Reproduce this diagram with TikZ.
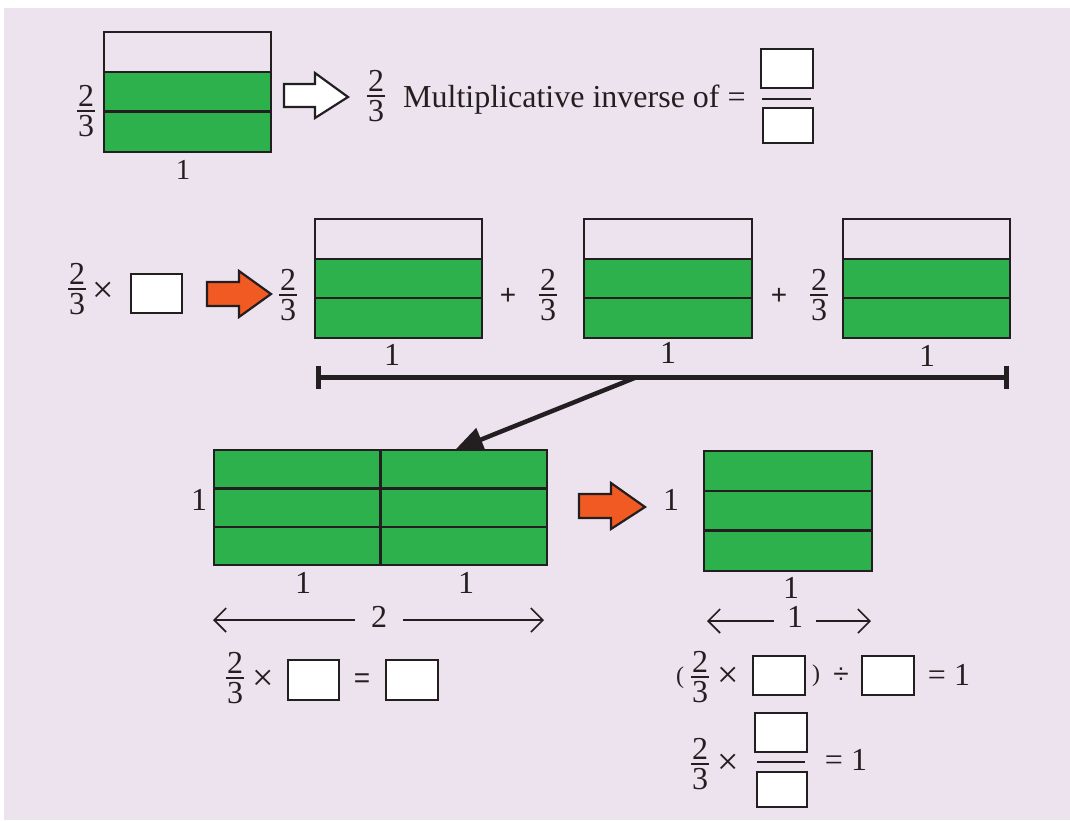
\documentclass[tikz,border=0pt]{standalone}
\usepackage{fontspec}
\setmainfont{Liberation Serif}
\newfontfamily\symfont{Liberation Sans}
\usetikzlibrary{arrows.meta,calc}
\definecolor{bgc}{HTML}{EDE3EF}
\definecolor{grn}{HTML}{2DB14C}
\definecolor{org}{HTML}{F15A22}
\definecolor{ink}{HTML}{231F20}
\tikzset{
  txt/.style={font=\fontsize{32}{38}\selectfont, inner sep=0pt, text=ink},
  small/.style={font=\fontsize{29}{34}\selectfont, inner sep=0pt, text=ink},
  sym/.style={font=\symfont\fontsize{28}{32}\selectfont, inner sep=0pt, text=ink},
  times/.style={font=\fontsize{38}{40}\selectfont, inner sep=0pt, text=ink},
  fbar/.style={draw=ink, line width=1.3pt},
  frame/.style={draw=ink, line width=2.6pt, inner sep=0pt, fill=none},
  ibox/.style={draw=ink, line width=2.6pt, inner sep=0pt, fill=white},
  ln/.style={draw=ink, line width=2.6pt},
  blk/.style={draw=ink, line width=2.2pt, line join=miter},
  dbl/.style={draw=ink, line width=1.6pt, -{Straight Barb[length=12pt,width=24pt]}},
}
\newcommand{\myfr}[3]{%
  \node[txt, anchor=south] (#1n) at (#2,#3-4) {2};
  \node[txt, anchor=north] (#1d) at (#2,#3+4) {3};
  \draw[fbar] (#2-9,#3) -- (#2+9,#3);}
\begin{document}
\begin{tikzpicture}[x=1pt,y=-1pt]
\useasboundingbox (0,0) rectangle (1070,820);
\fill[bgc] (4,8) rectangle (1070,820);

% ---------- Row 1 ----------
\fill[grn] (104,72) rectangle (271,152);
\draw[ln] (104,111.5) -- (271,111.5);
\draw[ln] (104,72) -- (271,72);
\node[frame, minimum width=167pt, minimum height=120pt] (ba) at (187.5,92) {};
\myfr{fa}{86}{111}
\node[small] (oa) at (183,170) {1};
\draw[blk, fill=white] (284,84) -- (315,84) -- (315,73) -- (348,97) -- (315,118) -- (315,107) -- (284,107) -- cycle;
\myfr{fb}{376}{96}
\node[txt, anchor=base west] (mi) at (403,107) {Multiplicative inverse of =};
\node[ibox, minimum width=52pt, minimum height=39pt] (ta) at (787,68.5) {};
\draw[fbar] (762,99) -- (811,99);
\node[ibox, minimum width=50pt, minimum height=35pt] (tb) at (788,125.5) {};

% ---------- Row 2 ----------
\myfr{fc}{77}{289}
\node[times] (xa) at (103,292) {×};
\node[ibox, minimum width=51pt, minimum height=39pt] (ua) at (156.5,293.5) {};
\draw[blk, fill=org] (207,282) -- (239,282) -- (239,271) -- (271,294) -- (239,317) -- (239,306) -- (207,306) -- cycle;
\myfr{fd}{288}{295}
% box B1
\fill[grn] (315,259) rectangle (482,338);
\draw[ln] (315,259) -- (482,259);
\draw[ln] (315,298) -- (482,298);
\node[frame, minimum width=167pt, minimum height=119pt] (b1) at (398.5,278.5) {};
\node[sym] (pa) at (508,296) {+};
\myfr{fe}{548}{295}
% box B2
\fill[grn] (584,259) rectangle (752,338);
\draw[ln] (584,259) -- (752,259);
\draw[ln] (584,298) -- (752,298);
\node[frame, minimum width=168pt, minimum height=119pt] (b2) at (668,278.5) {};
\node[sym] (pb) at (779,296) {+};
\myfr{ff}{819}{295}
% box B3
\fill[grn] (843,259) rectangle (1010,338);
\draw[ln] (843,259) -- (1010,259);
\draw[ln] (843,298) -- (1010,298);
\node[frame, minimum width=167pt, minimum height=119pt] (b3) at (926.5,278.5) {};
\node[txt] (ob) at (392,355) {1};
\node[txt] (oc) at (668,353) {1};
\node[txt] (od) at (927,356) {1};
% long bar
\coordinate (barL) at (316,377);
\coordinate (barR) at (1009,377);
\draw[draw=ink, line width=5pt, {Bar[width=23pt]}-{Bar[width=23pt]}] (barL) -- (barR);
\coordinate (jn) at (637,377);
\coordinate (tg) at (455,450);
\draw[draw=ink, line width=4.5pt, -{Triangle[length=28pt,width=24pt]}] (jn) -- (tg);

% ---------- Row 3 left ----------
\fill[grn] (214,450) rectangle (547,565);
\draw[ln] (214,488.5) -- (547,488.5);
\draw[ln] (214,527) -- (547,527);
\draw[ln] (380.5,450) -- (380.5,565);
\node[frame, minimum width=333pt, minimum height=115pt] (big) at (380.5,507.5) {};
\node[txt] (oe) at (199,500) {1};
\node[txt] (of) at (303,583) {1};
\node[txt] (og) at (466,583) {1};
\coordinate (dl) at (213,620);
\coordinate (dr) at (544,620);
\node[txt, inner xsep=16pt] (two) at (379,617) {2};
\draw[dbl] (two.west |- dl) -- (dl);
\draw[dbl] (two.east |- dr) -- (dr);
\myfr{fg}{235}{678}
\node[times] (xb) at (263,680) {×};
\node[ibox, minimum width=51pt, minimum height=40pt] (ub) at (313.5,680) {};
\node[sym] (ea) at (362,681) {=};
\node[ibox, minimum width=52pt, minimum height=40pt] (uc) at (412,680) {};

% ---------- Row 3 right ----------
\draw[blk, fill=org] (579,494) -- (611,494) -- (611,483) -- (645,507) -- (611,529) -- (611,518) -- (579,518) -- cycle;
\node[txt] (oh) at (671,500) {1};
\fill[grn] (704,451) rectangle (872,571);
\draw[ln] (704,491) -- (872,491);
\draw[ln] (704,530.5) -- (872,530.5);
\node[frame, minimum width=168pt, minimum height=120pt] (sm) at (788,511) {};
\node[txt] (oi) at (791,588) {1};
\coordinate (el) at (707,621);
\coordinate (er) at (871,621);
\node[txt, inner xsep=13pt] (one) at (795,617) {1};
\draw[dbl] (one.west |- el) -- (el);
\draw[dbl] (one.east |- er) -- (er);
% eq 1
\node[txt, font=\fontsize{24}{28}\selectfont] (lp) at (680,678) {(};
\myfr{fh}{700}{677}
\node[times] (xc) at (728,677) {×};
\node[ibox, minimum width=52pt, minimum height=39pt] (ud) at (779,675.5) {};
\node[txt, font=\fontsize{24}{28}\selectfont] (rp) at (816,676) {)};
\node[sym] (dv) at (841,676) {÷};
\node[ibox, minimum width=52pt, minimum height=39pt] (ue) at (888,675.5) {};
\node[txt] (eb) at (949,675) {= 1};
% eq 2
\myfr{fi}{700}{764}
\node[times] (xd) at (728,764) {×};
\node[ibox, minimum width=52pt, minimum height=39pt] (uf) at (781,732.5) {};
\draw[fbar] (757,762) -- (805,762);
\node[ibox, minimum width=50pt, minimum height=35pt] (ug) at (782,789.5) {};
\node[txt] (ec) at (846,760) {= 1};
\end{tikzpicture}
\end{document}
